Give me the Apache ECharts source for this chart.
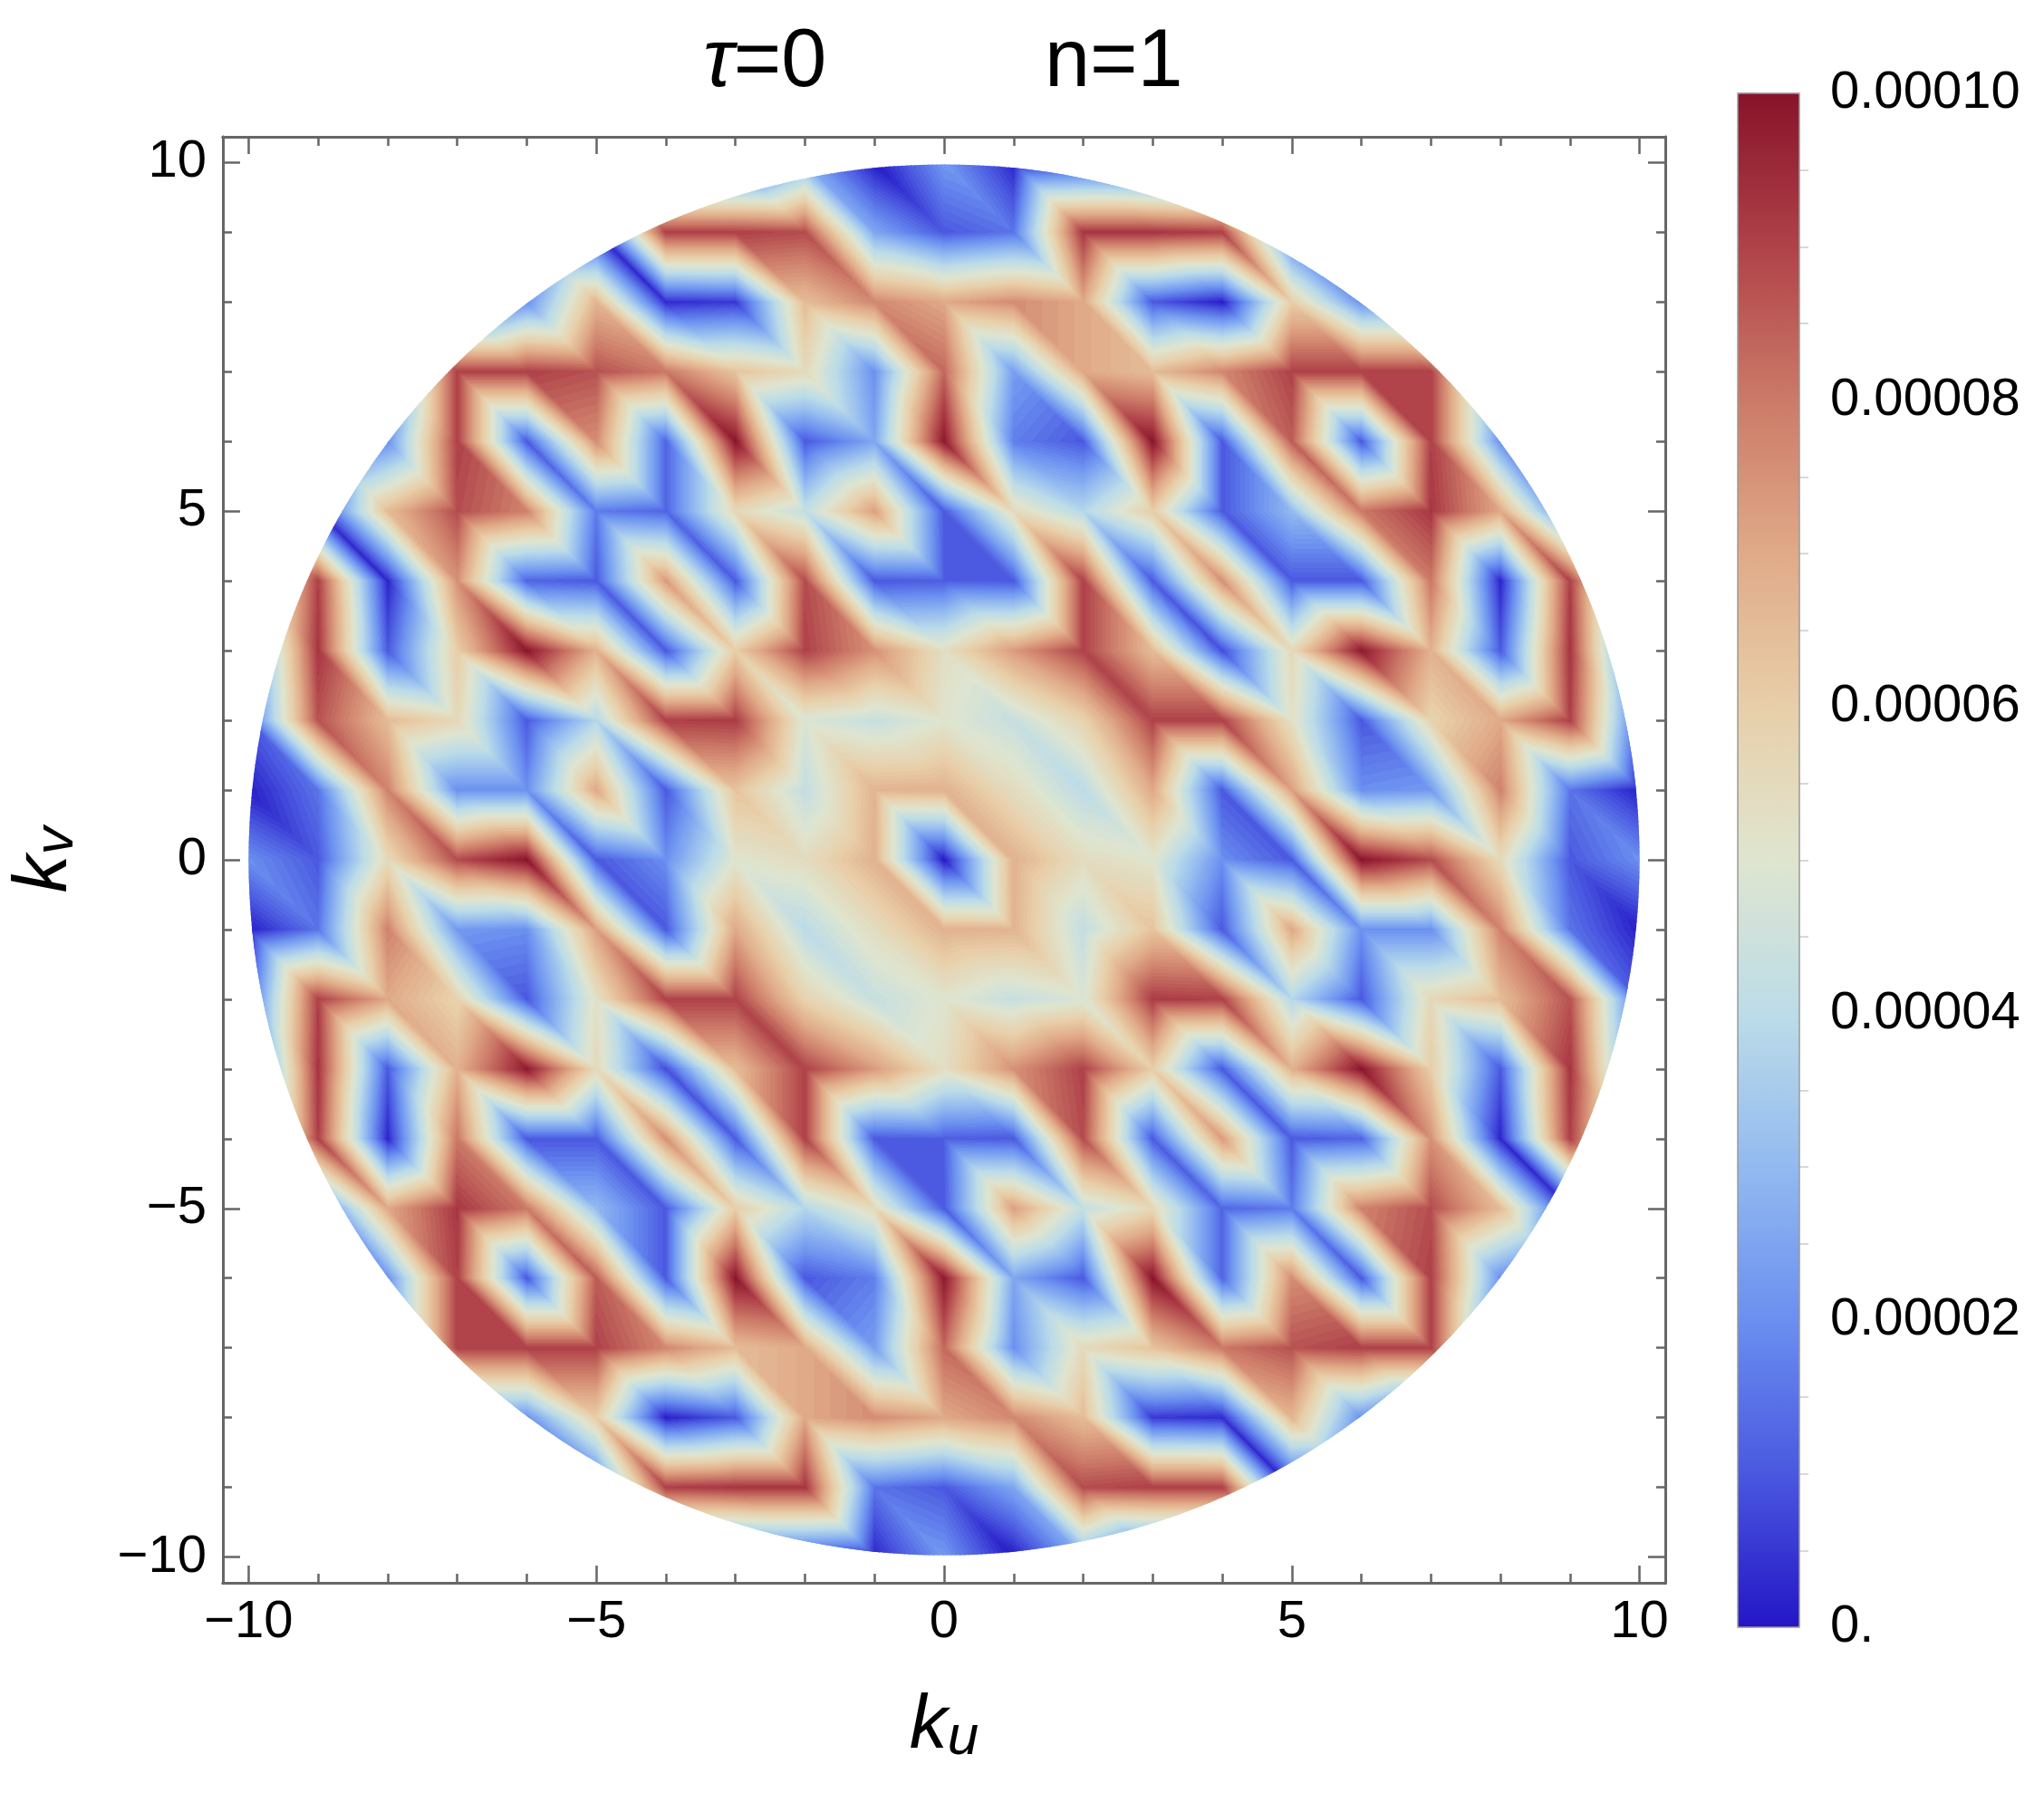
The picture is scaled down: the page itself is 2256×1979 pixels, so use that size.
<!DOCTYPE html>
<html>
<head>
<meta charset="utf-8">
<style>
html, body { margin: 0; padding: 0; background: #fff; }
#main { width: 2256px; height: 1979px; }
</style>
<script src="https://cdn.jsdelivr.net/npm/echarts@6/dist/echarts.min.js"></script>
</head>
<body>
<div id="main"></div>
<script>
var fontName = 'Liberation Sans';

// node positions of the k grid
var kU = [-10, -9, -8, -7, -6, -5, -4, -3, -2, -1, 0, 1, 2, 3, 4, 5, 6, 7, 8, 9, 10];
var kV = [10, 9, 8, 7, 6, 5, 4, 3, 2, 1, 0, -1, -2, -3, -4, -5, -6, -7, -8, -9, -10];

// one row per kV, in units of 1e-5
var rows = [
	[0, 0, 0, 0, 0, 0, 0, 0, 2.5, 0, 2.2, 0.2, 0.5, 0, 0, 0, 0, 0, 0, 0, 0],
	[0, 0, 0, 0, 0, 0.2, 9, 9, 8.8, 2.5, 1, 1.5, 9.2, 9.2, 9, 1, 0, 0, 0, 0, 0],
	[0, 0, 0, 0, 2, 6.7, 0.3, 0.5, 6.5, 7.7, 7, 7.6, 7, 1, 0.1, 6, 2, 0, 0, 0, 0],
	[0, 0, 1, 9, 9, 8.7, 8, 6.3, 5.5, 2, 8.3, 2.3, 7, 6.5, 7.7, 9, 9, 9, 1, 0, 0],
	[0, 0, 2, 9, 1, 7.6, 1.2, 9.9, 1, 2.5, 9.8, 1.7, 1, 9.9, 1, 8.5, 1, 9, 2, 0, 0],
	[0, 0.3, 6.5, 8.8, 7.8, 1.6, 1.2, 5.6, 4.2, 7.2, 1, 5.5, 3.8, 6, 1, 3, 8, 9.2, 7, 1, 0],
	[2.4, 9, 0.2, 7.5, 1.2, 1, 7.3, 1, 8.8, 1, 1.1, 1, 9, 1, 7.5, 1, 1, 8, 0.2, 9, 1],
	[1.3, 9.2, 1, 6, 9.9, 6.8, 1, 6, 9, 7.5, 5.3, 7.3, 9, 6.5, 0.8, 5.5, 9.8, 6.8, 1, 9.2, 0],
	[1, 8.7, 6.5, 5.6, 1, 3.8, 9, 9.1, 4.8, 4.3, 5, 4.3, 5.8, 9, 9, 5.2, 1, 5.8, 7, 9, 1],
	[0.1, 1.5, 7.8, 2, 2, 7, 1, 6.3, 4.2, 6.7, 6.8, 5.4, 4, 7, 1, 7.2, 2, 2.2, 7.8, 1.5, 0.1],
	[2, 1, 5.5, 8.8, 9.9, 1, 2, 5, 5.4, 6.8, 0, 6.8, 5.4, 5, 2, 1, 9.9, 8.8, 5.5, 1, 2],
	[0.1, 1.5, 7.8, 2.2, 2, 7.2, 1, 7, 4, 5.4, 6.8, 6.7, 4.2, 6.3, 1, 7, 2, 2, 7.8, 1.5, 0.1],
	[1, 9, 7, 5.8, 1, 5.2, 9, 9, 5.8, 4.3, 5, 4.3, 4.8, 9.1, 9, 3.8, 1, 5.6, 6.5, 8.7, 1],
	[0, 9.2, 1, 6.8, 9.8, 5.5, 0.8, 6.5, 9, 7.3, 5.3, 7.5, 9, 6, 1, 6.8, 9.9, 6, 1, 9.2, 1.3],
	[1, 9, 0.2, 8, 1, 1, 7.5, 1, 9, 1, 1.1, 1, 8.8, 1, 7.3, 1, 1.2, 7.5, 0.2, 9, 2.4],
	[0, 1, 7, 9.2, 8, 3, 1, 6, 3.8, 5.5, 1, 7.2, 4.2, 5.6, 1.2, 1.6, 7.8, 8.8, 6.5, 0.3, 0],
	[0, 0, 2, 9, 1, 8.5, 1, 9.9, 1, 1.7, 9.8, 2.5, 1, 9.9, 1.2, 7.6, 1, 9, 2, 0, 0],
	[0, 0, 1, 9, 9, 9, 7.7, 6.5, 7, 2.3, 8.3, 2, 5.5, 6.3, 8, 8.7, 9, 9, 1, 0, 0],
	[0, 0, 0, 0, 2, 6, 0.1, 1, 7, 7.6, 7, 7.7, 6.5, 0.5, 0.3, 6.7, 2, 0, 0, 0, 0],
	[0, 0, 0, 0, 0, 1, 9, 9.2, 9.2, 1.5, 1, 2.5, 8.8, 9, 9, 0.2, 0, 0, 0, 0, 0],
	[0, 0, 0, 0, 0, 0, 0, 0, 0.5, 0.2, 2.2, 0, 2.5, 0, 0, 0, 0, 0, 0, 0, 0]
];
var valueUnit = 1e-5;

// colour ramp, 0 to 10 in the same units
var palette = ['#2416c6', '#4a58e0', '#6a8ff0', '#93baf0', '#bcdce8', '#dfe5cf',
	'#e8cfa9', '#e0aa88', '#cc7a68', '#af4249', '#871329'];

var majorTicks = [-10, -5, 0, 5, 10];
var minorTicks = [-9, -8, -7, -6, -4, -3, -2, -1, 1, 2, 3, 4, 6, 7, 8, 9];
var barMajor = [0, 0.00002, 0.00004, 0.00006, 0.00008, 0.0001];
var barMinor = [0.000005, 0.00001, 0.000015, 0.000025, 0.00003, 0.000035, 0.000045, 0.00005, 0.000055,
	0.000065, 0.00007, 0.000075, 0.000085, 0.00009, 0.000095];
var barLabels = ['0.', '0.00002', '0.00004', '0.00006', '0.00008', '0.00010'];

var axisEdge = 10.37;
var diskRadius = 10;
var bandCount = 72;

var points = [];
for(var r = 0; r < kV.length; r++) {
	for(var c = 0; c < kU.length; c++) {
		points.push([kU[c], kV[r], rows[r][c] * valueUnit]);
	}
}

function nodeValue(col, row) {
	return rows[row][col];
}

// keep the part of a polygon on one side of a level, value is linear on the triangle
function clipLevel(poly, level, keepAbove) {
	var out = [];
	for(var i = 0; i < poly.length; i++) {
		var a = poly[i];
		var b = poly[(i + 1) % poly.length];
		var da = keepAbove ? a[2] - level : level - a[2];
		var db = keepAbove ? b[2] - level : level - b[2];
		if(da >= 0) {
			out.push(a);
		}
		if((da >= 0) != (db >= 0)) {
			var t = da / (da - db);
			out.push([a[0] + (b[0] - a[0]) * t, a[1] + (b[1] - a[1]) * t, level]);
		}
	}
	return out;
}

function triangleBands(tri, children) {
	var low = Math.min(tri[0][2], tri[1][2], tri[2][2]);
	var high = Math.max(tri[0][2], tri[1][2], tri[2][2]);
	var step = 10 / bandCount;
	for(var i = Math.floor(low / step); i < bandCount && i * step <= high; i++) {
		var poly = clipLevel(tri, i * step, true);
		poly = clipLevel(poly, (i + 1) * step, false);
		if(poly.length < 3) {
			continue;
		}
		var color = echarts.color.lerp((i + 0.5) / bandCount, palette);
		children.push({
			type: 'polygon',
			silent: true,
			shape: {
				points: poly.map(function(p) {
					return [p[0], p[1]];
				})
			},
			style: {
				fill: color,
				stroke: color,
				lineWidth: 1
			}
		});
	}
}

function renderCell(params, api) {
	var u = api.value(0);
	var v = api.value(1);
	var col = kU.indexOf(u);
	var row = kV.indexOf(v);
	// node is the lower left corner of its cell
	if(col >= kU.length - 1 || row <= 0) {
		return null;
	}

	function node(du, dv) {
		var p = api.coord([u + du, v + dv]);
		return [p[0], p[1], nodeValue(col + du, row - dv)];
	}
	var children = [];
	triangleBands([node(0, 1), node(0, 0), node(1, 0)], children);
	triangleBands([node(0, 1), node(1, 0), node(1, 1)], children);

	var center = api.coord([0, 0]);
	return {
		type: 'group',
		clipPath: {
			type: 'circle',
			shape: {
				cx: center[0],
				cy: center[1],
				r: api.size([diskRadius, 0])[0]
			}
		},
		children: children
	};
}

function tickLabel(value) {
	return String(value).replace('-', '\u2212');
}

function frameStyle() {
	return {
		axisLine: { show: true, onZero: false, lineStyle: { color: '#666', width: 3 } },
		splitLine: { show: false },
		z: 5
	};
}

function frameAxis(position, gridValues, length, withLabel) {
	var axis = frameStyle();
	axis.type = 'value';
	axis.gridIndex = 0;
	axis.position = position;
	axis.min = -axisEdge;
	axis.max = axisEdge;
	axis.axisTick = {
		show: true,
		inside: true,
		length: length,
		customValues: gridValues,
		lineStyle: { color: '#666', width: 2.5 }
	};
	axis.axisLabel = {
		show: withLabel,
		customValues: gridValues,
		formatter: tickLabel,
		margin: 15,
		color: '#000',
		fontFamily: fontName,
		fontSize: 58
	};
	return axis;
}

var xMain = frameAxis('bottom', majorTicks, 19, true);
xMain.name = '{k|k}{s|u}';
xMain.nameLocation = 'middle';
xMain.nameGap = 115;
xMain.nameTextStyle = {
	rich: {
		k: { fontFamily: fontName, fontStyle: 'italic', fontSize: 84, color: '#000' },
		s: { fontFamily: fontName, fontStyle: 'italic', fontSize: 62, color: '#000', padding: [26, 0, 0, 0] }
	}
};

var yMain = frameAxis('left', majorTicks, 19, true);
yMain.name = '{k|k}{s|v}';
yMain.nameLocation = 'middle';
yMain.nameRotate = 90;
yMain.nameGap = 152;
yMain.nameTextStyle = xMain.nameTextStyle;
yMain.axisLabel.margin = 18;
yMain.axisLabel.padding = [0, 0, 14, 0];

function barAxis(values, length, withLabel) {
	return {
		type: 'value',
		gridIndex: 1,
		position: 'right',
		min: 0,
		max: 0.0001,
		axisLine: { show: false },
		splitLine: { show: false },
		axisTick: {
			show: true,
			length: length,
			customValues: values,
			lineStyle: { color: '#ccc', width: 1.5 }
		},
		axisLabel: {
			show: withLabel,
			customValues: values,
			margin: 34,
			padding: [0, 0, 26, 0],
			color: '#000',
			fontFamily: fontName,
			fontSize: 58,
			formatter: function(value) {
				return barLabels[barMajor.indexOf(value)];
			}
		}
	};
}

var titleRich = {
	i: { fontFamily: fontName, fontStyle: 'italic', fontSize: 90, color: '#000' }
};

var option = {
	animation: false,
	backgroundColor: '#fff',
	title: [{
		text: '{i|\u03c4}=0',
		left: 776,
		top: 25,
		padding: 0,
		textStyle: { fontFamily: fontName, fontWeight: 'normal', fontSize: 90, color: '#000', rich: titleRich }
	}, {
		text: 'n=1',
		left: 1153,
		top: 25,
		padding: 0,
		textStyle: { fontFamily: fontName, fontWeight: 'normal', fontSize: 90, color: '#000' }
	}],
	grid: [{
		left: 246,
		top: 151,
		width: 1592,
		height: 1596,
		outerBoundsMode: 'none'
	}, {
		left: 1918,
		top: 103,
		width: 68,
		height: 1693,
		outerBoundsMode: 'none',
		show: true,
		borderColor: '#999',
		borderWidth: 1.5,
		backgroundColor: 'transparent',
		z: 6
	}],
	xAxis: [
		xMain,
		frameAxis('bottom', minorTicks, 10, false),
		frameAxis('top', majorTicks, 19, false),
		frameAxis('top', minorTicks, 10, false),
		{ type: 'value', gridIndex: 1, min: 0, max: 1, show: false }
	],
	yAxis: [
		yMain,
		frameAxis('left', minorTicks, 10, false),
		frameAxis('right', majorTicks, 19, false),
		frameAxis('right', minorTicks, 10, false),
		barAxis(barMajor, 20, true),
		barAxis(barMinor, 10, false)
	],
	visualMap: {
		type: 'continuous',
		seriesIndex: 0,
		dimension: 2,
		min: 0,
		max: 0.0001,
		left: 1918,
		top: 103,
		padding: 0,
		itemWidth: 68,
		itemHeight: 1693,
		calculable: false,
		hoverLink: false,
		text: null,
		inRange: { color: palette }
	},
	series: [{
		type: 'custom',
		coordinateSystem: 'cartesian2d',
		xAxisIndex: 0,
		yAxisIndex: 0,
		encode: { x: 0, y: 1 },
		silent: true,
		renderItem: renderCell,
		data: points,
		z: 2
	}]
};

var myChart = echarts.init(document.getElementById('main'), null, { renderer: 'canvas' });
myChart.setOption(option);
</script>
</body>
</html>
